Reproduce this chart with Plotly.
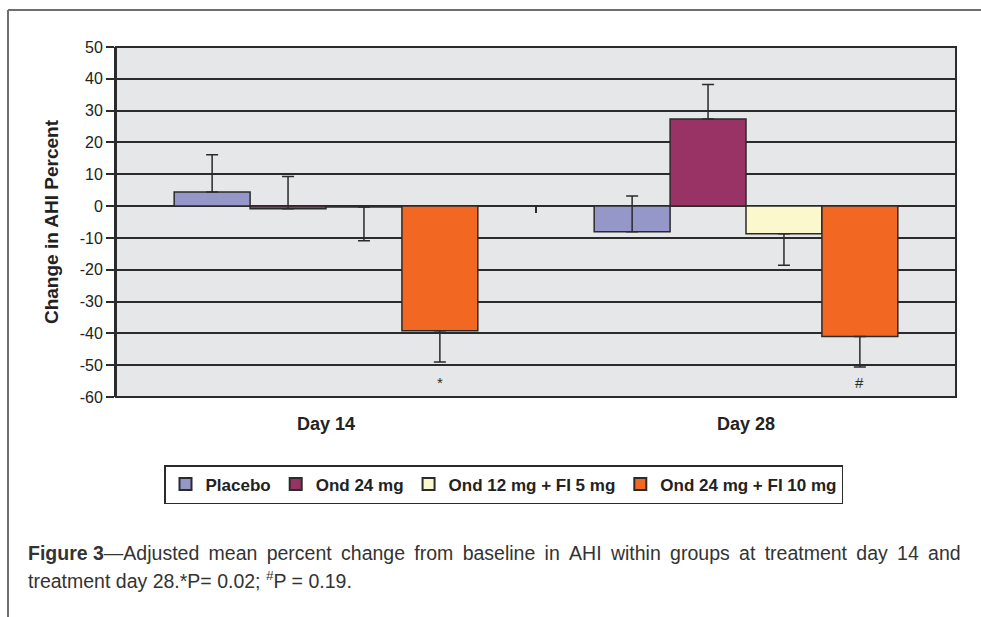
import plotly.graph_objects as go

categories = ["Day 14", "Day 28"]
series_names = ["Placebo", "Ond 24 mg", "Ond 12 mg + FI 5 mg", "Ond 24 mg + FI 10 mg"]
series_colors = ["#9497C8", "#993366", "#FAF8CC", "#F26722"]
placebo = [4.4, -8.1]
ond24 = [-0.8, 27.4]
ond12_fl5 = [-0.3, -8.7]
ond24_fl10 = [-39.2, -41.0]
# error bars (plus / minus magnitudes, one-sided as in the original)
placebo_err_plus = [11.7, 11.3]
placebo_err_minus = [0, 0]
ond24_err_plus = [10.1, 10.8]
ond24_err_minus = [0, 0]
ond12_err_plus = [0, 0]
ond12_err_minus = [10.6, 9.9]
ond24fl_err_plus = [0, 0]
ond24fl_err_minus = [9.8, 9.6]
sig_marks = ["*", "#"]
y_ticks = [50, 40, 30, 20, 10, 0, -10, -20, -30, -40, -50, -60]
y_tick_text = ["50", "40", "30", "20", "10", "0", "-10", "-20", "-30", "-40", "-50", "-60"]

values = [placebo, ond24, ond12_fl5, ond24_fl10]
err_p = [placebo_err_plus, ond24_err_plus, ond12_err_plus, ond24fl_err_plus]
err_m = [placebo_err_minus, ond24_err_minus, ond12_err_minus, ond24fl_err_minus]

W, H = 981, 617
L, R, T, B = 116, 25, 47, 220
pw, ph = W - L - R, H - T - B
def px_x(px):
    return (px - L) / pw
def px_y(py):
    return (H - B - py) / ph

FONT = "Liberation Sans, Arial, sans-serif"
DARK = "#2b2b2b"

fig = go.Figure()
for name, col, v, ep, em in zip(series_names, series_colors, values, err_p, err_m):
    fig.add_trace(go.Bar(
        x=categories, y=v, name=name,
        marker=dict(color=col, line=dict(color=DARK, width=1.5)),
        error_y=dict(type="data", symmetric=False, array=ep, arrayminus=em,
                     color=DARK, thickness=1.5, width=6),
    ))

bargap = 0.277
nb = len(series_names)
bw = (1 - bargap) / nb
last_offset = (nb - 1 - (nb - 1) / 2) * bw
annotations = []
for i, m in enumerate(sig_marks):
    annotations.append(dict(x=i + last_offset, y=-55.5, xref="x", yref="y", text=m,
                            showarrow=False, font=dict(family=FONT, size=15, color=DARK)))

line1 = "<b>Figure 3</b>—Adjusted mean percent change from baseline in AHI within groups at treatment day 14 and"
line1 = line1.replace(" ", " \u2009").replace("<b>Figure \u2009", "<b>Figure ")
annotations.append(dict(
    x=px_x(26), y=px_y(553), xref="paper", yref="paper", xanchor="left", yanchor="middle",
    text=line1, showarrow=False, font=dict(family=FONT, size=19.5, color="#333333")))
annotations.append(dict(
    x=px_x(26), y=px_y(580), xref="paper", yref="paper", xanchor="left", yanchor="middle",
    text="treatment day 28.*P= 0.02; <sup>#</sup>P = 0.19.",
    showarrow=False, font=dict(family=FONT, size=19.5, color="#333333")))

shapes = [
    dict(type="line", xref="paper", yref="paper", x0=px_x(8), x1=px_x(990), y0=px_y(10), y1=px_y(10),
         line=dict(color="#6e6e6e", width=2)),
    dict(type="line", xref="paper", yref="paper", x0=px_x(8), x1=px_x(8), y0=px_y(10), y1=px_y(630),
         line=dict(color="#6e6e6e", width=2)),
    dict(type="rect", xref="paper", yref="paper", x0=0, x1=1, y0=0, y1=1,
         line=dict(color=DARK, width=2)),
]

fig.update_layout(
    width=W, height=H,
    margin=dict(l=L, r=R, t=T, b=B),
    paper_bgcolor="white", plot_bgcolor="#E6E7E9",
    barmode="group", bargap=bargap, bargroupgap=0,
    showlegend=True,
    legend=dict(orientation="h", x=px_x(164), y=px_y(465), xanchor="left", yanchor="top",
                bordercolor=DARK, borderwidth=1.5, bgcolor="white",
                font=dict(family=FONT, size=17, color="#222222", weight="bold"),
                traceorder="normal", itemsizing="constant", tracegroupgap=0),
    xaxis=dict(type="category", range=[-0.5, 1.5], showgrid=False, ticks="", showline=False,
               tickfont=dict(family=FONT, size=18, color="#222222", weight="bold"),
               ticklabelstandoff=14),
    xaxis2=dict(overlaying="x", range=[-0.5, 1.5], anchor="free", position=60 / 110,
                tickvals=[0.5, 1.5], ticks="outside", ticklen=6, tickwidth=2, tickcolor=DARK,
                showticklabels=False, showgrid=False, showline=False, zeroline=False, side="bottom"),
    yaxis=dict(range=[-60, 50], tickvals=y_ticks, ticktext=y_tick_text,
               showgrid=True, gridcolor=DARK, gridwidth=1.5,
               zeroline=False, showline=True, linecolor=DARK, linewidth=2,
               ticks="outside", ticklen=8, tickwidth=1.5, tickcolor=DARK,
               tickfont=dict(family=FONT, size=16, color="#222222"),
               title=dict(text="<b>Change in AHI Percent</b>", font=dict(family=FONT, size=19, color="#222222"),
                          standoff=16)),
    annotations=annotations,
    shapes=shapes,
)
fig.add_trace(go.Scatter(x=[-0.5, 1.5], y=[0, 0], xaxis="x2", mode="lines",
                         line=dict(color="rgba(0,0,0,0)"), showlegend=False, hoverinfo="skip"))

fig.write_html("out.html")
